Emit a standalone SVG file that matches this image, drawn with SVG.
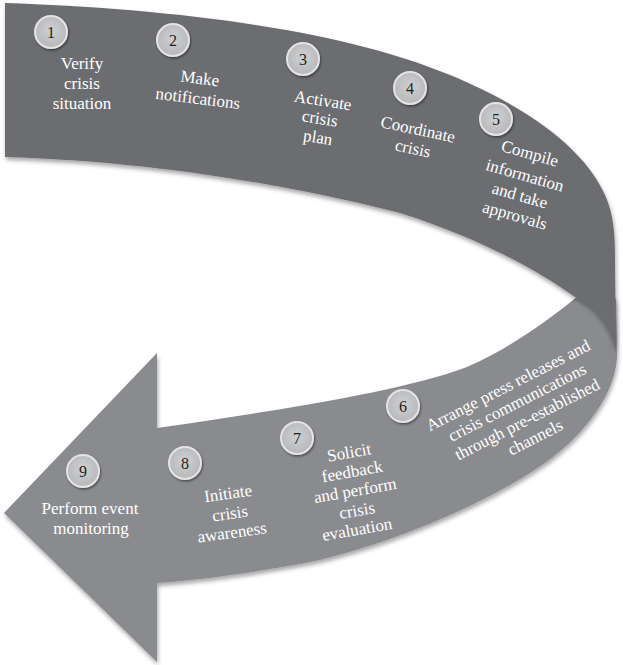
<svg xmlns="http://www.w3.org/2000/svg" width="623" height="665" viewBox="0 0 623 665">
<style>
.lbl{font-family:"Liberation Serif","DejaVu Serif",serif;font-size:17px;fill:#ffffff;text-anchor:middle}
.num{font-family:"Liberation Serif","DejaVu Serif",serif;font-size:16px;fill:#1e1e1e;text-anchor:middle}
.badge{fill:url(#bg);stroke:#e4e4e5;stroke-width:2;filter:url(#cs)}
</style>
<defs>
<filter id="sh" x="-5%" y="-5%" width="110%" height="115%">
<feDropShadow dx="1" dy="3" stdDeviation="2" flood-color="#000" flood-opacity="0.35"/>
</filter>
<filter id="cs" x="-30%" y="-30%" width="160%" height="160%">
<feDropShadow dx="1" dy="1.5" stdDeviation="1.2" flood-color="#000" flood-opacity="0.45"/>
</filter>
<radialGradient id="bg" cx="50%" cy="45%" r="55%">
<stop offset="0" stop-color="#d0d1d3"/>
<stop offset="1" stop-color="#b6b7b9"/>
</radialGradient>
</defs>
<g id="ribbon">
<path id="lower-band" filter="url(#sh)" fill="#8a8b8f" d="M157,428 C280,410 400,392 467,367 C510,348 550,320 585,290 L600,280 L616,300 L617,352 C618,380 600,420 553,457 C510,490 420,535 320,560 C260,572 200,580 157,583 L157,662 L4,513 L157,353 Z"/>
<path id="upper-band" filter="url(#sh)" fill="#6c6d71" d="M5,3 C150,8 330,25 450,75 C530,108 585,150 605,195 C614,215 615,235 615,260 L616,352 C612,330 595,305 575,297 C540,272 480,238 400,213 C330,195 180,162 5,157 Z"/>
</g>
<g id="step1">
<circle class="badge" cx="51" cy="32" r="16"/>
<text class="num" x="51" y="38">1</text>
<text class="lbl" x="82" y="69">Verify</text>
<text class="lbl" x="82" y="89">crisis</text>
<text class="lbl" x="82" y="109">situation</text>
</g>
<g id="step2">
<circle class="badge" cx="173" cy="40" r="16"/>
<text class="num" x="173" y="46">2</text>
<text class="lbl" x="200" y="84" transform="rotate(7 200 78)">Make</text>
<text class="lbl" x="198" y="104" transform="rotate(7 198 98)">notifications</text>
</g>
<g id="step3">
<circle class="badge" cx="303" cy="59" r="16"/>
<text class="num" x="303" y="65">3</text>
<text class="lbl" x="323" y="106" transform="rotate(9 323 100)">Activate</text>
<text class="lbl" x="320" y="124" transform="rotate(9 320 118)">crisis</text>
<text class="lbl" x="318" y="143" transform="rotate(9 318 137)">plan</text>
</g>
<g id="step4">
<circle class="badge" cx="410" cy="88" r="16"/>
<text class="num" x="410" y="94">4</text>
<text class="lbl" x="418" y="135" transform="rotate(12 418 129)">Coordinate</text>
<text class="lbl" x="413" y="154" transform="rotate(12 413 148)">crisis</text>
</g>
<g id="step5">
<circle class="badge" cx="496" cy="119" r="16"/>
<text class="num" x="496" y="125">5</text>
<text class="lbl" x="530" y="159" transform="rotate(16 530 153)">Compile</text>
<text class="lbl" x="525" y="181" transform="rotate(16 525 175)">information</text>
<text class="lbl" x="520" y="201" transform="rotate(16 520 195)">and take</text>
<text class="lbl" x="515" y="221" transform="rotate(16 515 215)">approvals</text>
</g>
<g id="step6">
<circle class="badge" cx="403" cy="406" r="16"/>
<text class="num" x="403" y="412">6</text>
<text class="lbl" x="508" y="391" transform="rotate(-27 508 385)">Arrange press releases and</text>
<text class="lbl" x="517" y="408" transform="rotate(-27 517 402)">crisis communications</text>
<text class="lbl" x="527" y="425" transform="rotate(-27 527 419)">through pre-established</text>
<text class="lbl" x="535" y="443" transform="rotate(-27 535 437)">channels</text>
</g>
<g id="step7">
<circle class="badge" cx="297" cy="438" r="16"/>
<text class="num" x="297" y="444">7</text>
<text class="lbl" x="349" y="458" transform="rotate(-10 349 452)">Solicit</text>
<text class="lbl" x="352" y="477" transform="rotate(-10 352 471)">feedback</text>
<text class="lbl" x="355" y="496" transform="rotate(-10 355 490)">and perform</text>
<text class="lbl" x="357" y="516" transform="rotate(-10 357 510)">crisis</text>
<text class="lbl" x="357" y="535" transform="rotate(-10 357 529)">evaluation</text>
</g>
<g id="step8">
<circle class="badge" cx="185" cy="463" r="16"/>
<text class="num" x="185" y="469">8</text>
<text class="lbl" x="228" y="499" transform="rotate(-8 228 493)">Initiate</text>
<text class="lbl" x="230" y="519" transform="rotate(-8 230 513)">crisis</text>
<text class="lbl" x="232" y="538" transform="rotate(-8 232 532)">awareness</text>
</g>
<g id="step9">
<circle class="badge" cx="83" cy="471" r="16"/>
<text class="num" x="83" y="477">9</text>
<text class="lbl" x="90" y="514">Perform event</text>
<text class="lbl" x="91" y="534">monitoring</text>
</g>
</svg>
